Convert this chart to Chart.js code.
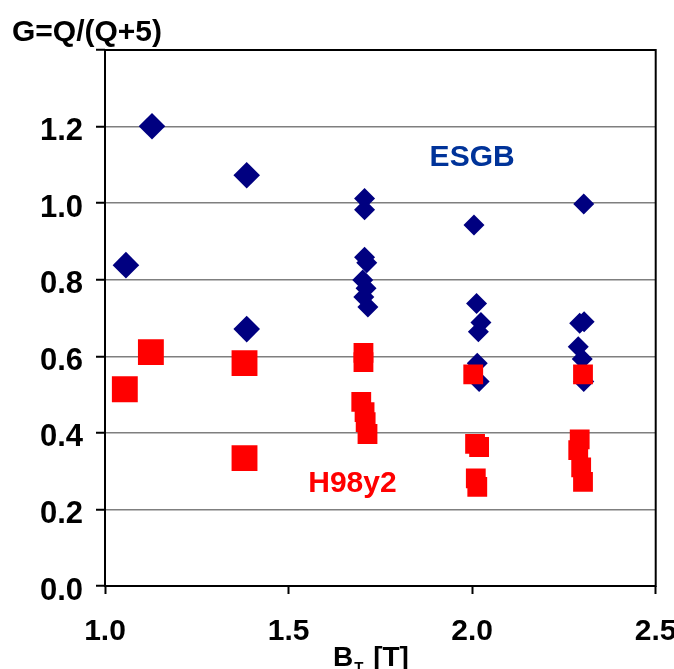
<!DOCTYPE html>
<html>
<head>
<meta charset="utf-8">
<script src="https://cdn.jsdelivr.net/npm/chart.js@4.4.1/dist/chart.umd.min.js"></script>
<style>
  html, body { margin: 0; padding: 0; background: #fff; }
  canvas { display: block; }
</style>
</head>
<body>
<canvas id="chartG" width="674" height="669"></canvas>
<script>
// B_T [T] and G values
const esgbBt = [1.057, 1.128, 1.386, 1.386,
  1.707, 1.707, 1.707, 1.713, 1.702, 1.711, 1.705, 1.716,
  2.005, 2.012, 2.024, 2.017, 2.014, 2.019,
  2.304, 2.293, 2.305, 2.289, 2.300, 2.304];
const esgbG = [0.838, 1.201, 1.073, 0.671,
  1.012, 0.983, 0.859, 0.844, 0.799, 0.778, 0.755, 0.729,
  0.943, 0.738, 0.688, 0.664, 0.582, 0.534,
  0.998, 0.686, 0.690, 0.625, 0.593, 0.534];

const h98Bt = [1.054, 1.125, 1.380, 1.380,
  1.704, 1.704, 1.698, 1.707, 1.710, 1.715,
  2.003, 2.008, 2.019, 2.010, 2.014,
  2.302, 2.293, 2.289, 2.297, 2.302];
const h98G = [0.514, 0.611, 0.582, 0.334,
  0.609, 0.585, 0.481, 0.454, 0.428, 0.397,
  0.553, 0.371, 0.363, 0.281, 0.259,
  0.553, 0.383, 0.355, 0.310, 0.272];

const xTicks = [1.0, 1.5, 2.0, 2.5];
const yTicks = [0.0, 0.2, 0.4, 0.6, 0.8, 1.0, 1.2];

const toPoints = (xs, ys) => xs.map((x, i) => ({ x: x, y: ys[i] }));

const FONT = '"Liberation Sans", Arial, sans-serif';

const textPlugin = {
  id: "texts",
  beforeDatasetsDraw(chart) {
    const a = chart.chartArea;
    const c = chart.ctx;
    c.save();
    c.strokeStyle = "#000";
    c.lineWidth = 2;
    c.strokeRect(a.left, a.top, a.right - a.left, a.bottom - a.top);
    c.restore();
  },
  afterDraw(chart) {
    const c = chart.ctx;
    const xs = chart.scales.x, ys = chart.scales.y;
    c.save();
    c.textBaseline = "alphabetic";
    c.textAlign = "left";
    c.fillStyle = "#000";
    c.font = "bold 30px " + FONT;
    c.fillText("G=Q/(Q+5)", 12, 41);

    // x axis title with subscript
    c.font = "bold 28px " + FONT;
    let x0 = 333;
    c.fillText("B", x0, 666);
    x0 += c.measureText("B").width;
    c.font = "bold 15px " + FONT;
    c.fillText("T", x0 + 1, 672);
    x0 += c.measureText("T").width + 3;
    c.font = "bold 28px " + FONT;
    c.fillText(" [T]", x0, 666);

    c.textAlign = "center";
    c.textBaseline = "middle";
    c.font = "bold 30px " + FONT;
    c.fillStyle = "#003399";
    c.fillText("ESGB", xs.getPixelForValue(2.0), ys.getPixelForValue(1.118));
    c.fillStyle = "#ff0000";
    c.fillText("H98y2", xs.getPixelForValue(1.674), ys.getPixelForValue(0.266));
    c.restore();
  }
};

new Chart(document.getElementById("chartG"), {
  type: "scatter",
  data: {
    datasets: [
      {
        label: "ESGB",
        data: toPoints(esgbBt, esgbG),
        order: 1,
        pointStyle: "rectRot",
        backgroundColor: "#000080",
        borderWidth: 0,
        pointRadius: ctx => (ctx.raw && ctx.raw.x < 1.5 ? 13.3 : 10.5)
      },
      {
        label: "H98y2",
        data: toPoints(h98Bt, h98G),
        order: 0,
        pointStyle: "rect",
        backgroundColor: "#ff0000",
        borderWidth: 0,
        pointRadius: ctx => (ctx.raw && ctx.raw.x < 1.5 ? 18.3 : 14)
      }
    ]
  },
  options: {
    responsive: false,
    animation: false,
    layout: { padding: { top: 50, right: 17, left: 0, bottom: 0 } },
    plugins: { legend: { display: false }, tooltip: { enabled: false } },
    scales: {
      x: {
        type: "linear",
        min: 1.0,
        max: 2.5,
        afterBuildTicks: s => { s.ticks = xTicks.map(v => ({ value: v })); },
        afterFit: s => { s.height = 83; s.paddingLeft = 0; s.paddingRight = 0; },
        border: { display: false },
        grid: { drawOnChartArea: false, drawTicks: true, tickLength: 8, tickColor: "#000", tickWidth: 2 },
        ticks: {
          color: "#000",
          padding: 20,
          maxRotation: 0,
          font: { family: FONT, size: 30, weight: "bold" },
          callback: v => Number(v).toFixed(1)
        }
      },
      y: {
        min: 0,
        max: 1.4,
        afterBuildTicks: s => { s.ticks = yTicks.concat([1.4]).map(v => ({ value: v })); },
        afterFit: s => { s.width = 105; s.paddingTop = 0; s.paddingBottom = 0; },
        border: { display: false },
        grid: {
          color: ctx => (ctx.tick && ctx.tick.value > 0.01 && ctx.tick.value < 1.39 ? "#7f7f7f" : "rgba(0,0,0,0)"),
          lineWidth: 1.5,
          drawTicks: true,
          tickLength: 9,
          tickColor: "#000",
          tickWidth: 2
        },
        ticks: {
          color: "#000",
          padding: 13,
          labelOffset: 5,
          font: { family: FONT, size: 31, weight: "bold" },
          callback: v => (v > 1.39 ? "" : Number(v).toFixed(1))
        }
      }
    }
  },
  plugins: [textPlugin]
});
</script>
</body>
</html>
